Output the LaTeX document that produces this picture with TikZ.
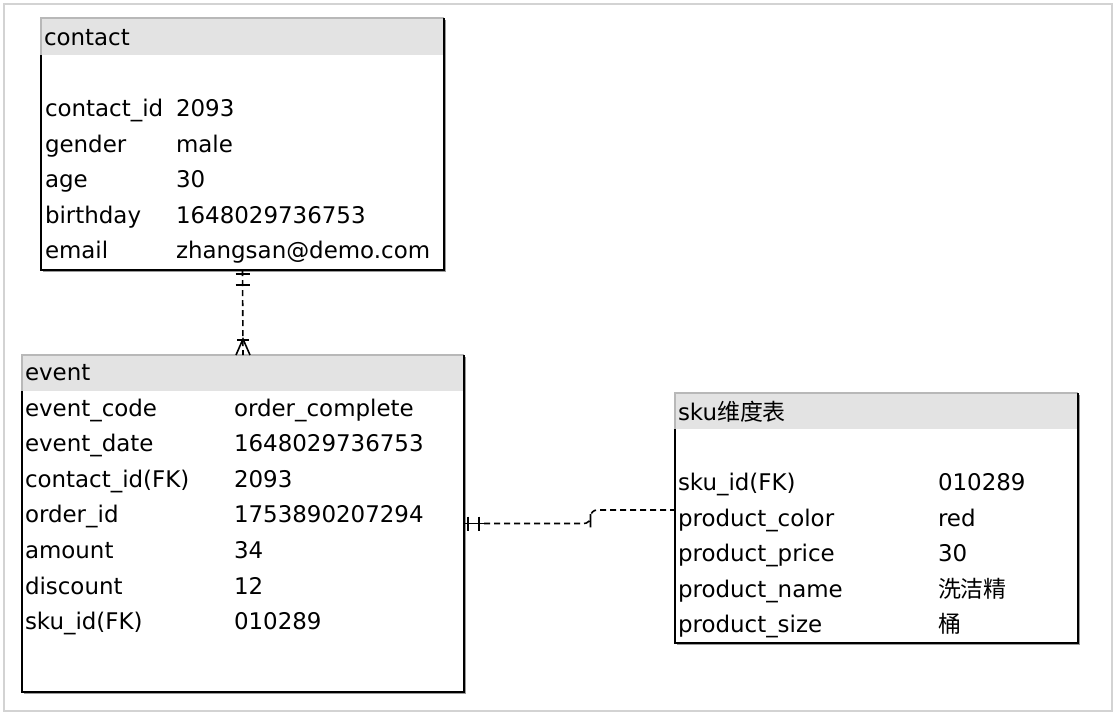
\documentclass[tikz,border=0pt]{standalone}
\usepackage{fontspec}
\setmainfont{DejaVu Sans}
\newfontfamily\cjk{Noto Sans CJK SC}
\usetikzlibrary{calc,fit}
\definecolor{hdrgray}{HTML}{E3E3E3}
\definecolor{hdredge}{HTML}{B8B8B8}
\definecolor{framegray}{HTML}{D3D3D3}
\definecolor{shadowgray}{HTML}{9A9A9A}
\begin{document}
\begin{tikzpicture}[x=0.75pt,y=-0.75pt,
  every node/.style={inner sep=0pt,outer sep=0pt},
  cell/.style={anchor=base west,font=\fontsize{17.2}{20}\selectfont},
  tbl/.style={draw=none,inner sep=0pt},
  hdr/.style={fill=hdrgray},
  hdrline/.style={draw=hdredge,line width=0.8pt},
  frame/.style={draw=black,line width=1.3pt},
  shade/.style={draw=shadowgray,line width=0.9pt},
  conn/.style={draw=black,line width=1.2pt,dash pattern=on 4.5pt off 3pt},
  ermark/.style={draw=black,line width=1.2pt}]
\useasboundingbox (0,0) rectangle (1116,718);
\draw[framegray,line width=1.8pt] (4,4) rectangle (1112,711);

% table frames
\node[tbl,fit={(41,18) (444,270)}] (contact) {};
\node[tbl,fit={(22,355) (464,692)}] (event) {};
\node[tbl,fit={(675,393) (1078,643)}] (sku) {};

\foreach \t/\h in {contact/37,event/36,sku/36}{
  \draw[shade] ($(\t.north east)+(1.6,2)$) |- ($(\t.south west)+(2,1.6)$);
  \path[hdr] (\t.north west) rectangle ($(\t.north east)+(0,\h)$);
  \draw[hdrline] ($(\t.north west)+(0,\h)$) -- (\t.north west) -- (\t.north east);
  \draw[frame] ($(\t.north west)+(0,\h)$) |- (\t.south east) -- (\t.north east);
}

% contact
\node[cell] (ch) at (44,45) {contact};
\node[cell] (c1a) at (45,116.5) {contact\_id};
\node[cell] (c1b) at (176,116.5) {2093};
\node[cell] (c2a) at (45,152) {gender};
\node[cell] (c2b) at (176,152) {male};
\node[cell] (c3a) at (45,187.5) {age};
\node[cell] (c3b) at (176,187.5) {30};
\node[cell] (c4a) at (45,223) {birthday};
\node[cell] (c4b) at (176,223) {1648029736753};
\node[cell] (c5a) at (45,258.5) {email};
\node[cell] (c5b) at (176,258.5) {zhangsan@demo.com};

% event
\node[cell] (eh) at (25,380) {event};
\node[cell] (e1a) at (25,416) {event\_code};
\node[cell] (e1b) at (234,416) {order\_complete};
\node[cell] (e2a) at (25,451.6) {event\_date};
\node[cell] (e2b) at (234,451.6) {1648029736753};
\node[cell] (e3a) at (25,487.2) {contact\_id(FK)};
\node[cell] (e3b) at (234,487.2) {2093};
\node[cell] (e4a) at (25,522.8) {order\_id};
\node[cell] (e4b) at (234,522.8) {1753890207294};
\node[cell] (e5a) at (25,558.4) {amount};
\node[cell] (e5b) at (234,558.4) {34};
\node[cell] (e6a) at (25,594) {discount};
\node[cell] (e6b) at (234,594) {12};
\node[cell] (e7a) at (25,629.6) {sku\_id(FK)};
\node[cell] (e7b) at (234,629.6) {010289};

% sku
\node[cell] (sh) at (678,420.7) {sku{\cjk 维度表}};
\node[cell] (s1a) at (678,490.5) {sku\_id(FK)};
\node[cell] (s1b) at (938,490.5) {010289};
\node[cell] (s2a) at (678,526) {product\_color};
\node[cell] (s2b) at (938,526) {red};
\node[cell] (s3a) at (678,561.6) {product\_price};
\node[cell] (s3b) at (938,561.6) {30};
\node[cell] (s4a) at (678,597.2) {product\_name};
\node[cell] (s4b) at (938,597.2) {\cjk 洗洁精};
\node[cell] (s5a) at (678,632.8) {product\_size};
\node[cell] (s5b) at (938,632.8) {\cjk 桶};

% connector contact -- event
\draw[conn] (contact.south) -- (event.north);
\draw[ermark] ($(contact.south)+(-7,4)$) -- ++(14,0);
\draw[ermark] ($(contact.south)+(-7,15)$) -- ++(14,0);
\draw[ermark] ($(event.north)+(-6,-15)$) -- ++(12,0);
\draw[ermark] ($(event.north)+(-7,0)$) -- ($(event.north)+(0,-16)$) -- ($(event.north)+(7,0)$);

% connector event -- sku
\coordinate (skuin) at ($(sku.west)+(0,-8)$);
\coordinate (jog) at ($(event.east)!0.5!(sku.west)+(21,0)$);
\draw[conn,rounded corners=5pt] ($(event.east)+(20,0)$) -| (jog) |- (skuin);
\draw[ermark] (event.east) -- ++(20,0);
\draw[ermark] ($(event.east)+(4,-7)$) -- ++(0,14);
\draw[ermark] ($(event.east)+(15,-7)$) -- ++(0,14);
\end{tikzpicture}
\end{document}
